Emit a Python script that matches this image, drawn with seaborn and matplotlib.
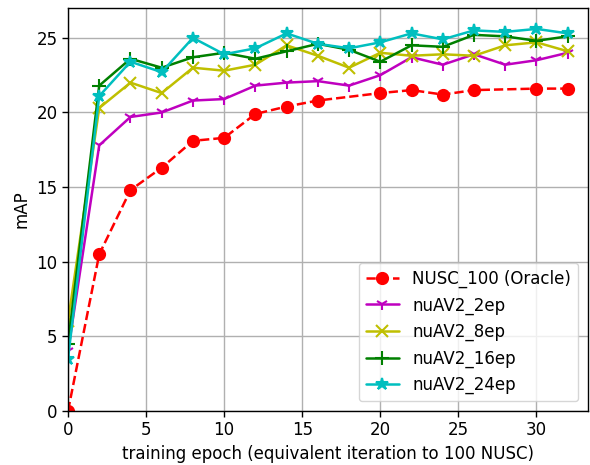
import pandas as pd
import matplotlib.pyplot as plt
import seaborn as sns

# epochs on the x axis
epochs = [0, 2, 4, 6, 8, 10, 12, 14, 16, 18, 20, 22, 24, 26, 28, 30, 32]
oracle_epochs = [0, 2, 4, 6, 8, 10, 12, 14, 16, 20, 22, 24, 26, 30, 32]

# mAP values
nusc_100 = [0.0, 10.5, 14.8, 16.3, 18.1, 18.3, 19.9, 20.4, 20.8, 21.3, 21.5, 21.2, 21.5, 21.6, 21.6]
nuav2_2ep = [4.0, 17.8, 19.7, 20.0, 20.8, 20.9, 21.8, 22.0, 22.1, 21.8, 22.5, 23.7, 23.2, 23.9, 23.2, 23.5, 24.0]
nuav2_8ep = [6.0, 20.3, 22.0, 21.3, 23.0, 22.8, 23.2, 24.5, 23.8, 23.0, 24.0, 23.8, 23.9, 23.8, 24.5, 24.7, 24.1]
nuav2_16ep = [4.5, 21.8, 23.6, 23.0, 23.7, 24.0, 23.6, 24.1, 24.6, 24.2, 23.4, 24.5, 24.4, 25.2, 25.1, 24.8, 25.1]
nuav2_24ep = [3.5, 21.1, 23.4, 22.7, 25.0, 23.9, 24.3, 25.3, 24.6, 24.3, 24.7, 25.3, 24.9, 25.5, 25.4, 25.6, 25.3]

series = [
    ("NUSC_100 (Oracle)", oracle_epochs, nusc_100, "r", "o", "--", 8),
    ("nuAV2_2ep", epochs, nuav2_2ep, "m", "1", "-", 9),
    ("nuAV2_8ep", epochs, nuav2_8ep, "y", "x", "-", 9),
    ("nuAV2_16ep", epochs, nuav2_16ep, "g", "+", "-", 10),
    ("nuAV2_24ep", epochs, nuav2_24ep, "c", "*", "-", 9),
]

sns.set_style("white")
plt.rcParams['font.family'] = ['DejaVu Sans']
plt.rcParams.update({"text.color": "black", "axes.labelcolor": "black",
                     "xtick.color": "black", "ytick.color": "black"})

fig = plt.figure(figsize=(5.9, 4.65), dpi=100)
ax = fig.add_axes([68 / 590, 54 / 465, 520 / 590, 403 / 465])

for name, xs, ys, color, marker, ls, ms in series:
    df = pd.DataFrame({"epoch": xs, "mAP": ys})
    sns.lineplot(data=df, x="epoch", y="mAP", ax=ax, color=color, marker=marker,
                 linestyle=ls, linewidth=1.8, markersize=ms, markeredgewidth=1.5,
                 markeredgecolor=color, label=name)

ax.set_xlim(0, 33.3)
ax.set_ylim(0, 27.0)
ax.set_xticks([0, 5, 10, 15, 20, 25, 30])
ax.set_yticks([0, 5, 10, 15, 20, 25])
ax.grid(True, color="#b0b0b0", linewidth=1)
ax.tick_params(labelsize=12, direction="out", length=4, width=1, color="black",
               bottom=True, left=True)
for s in ax.spines.values():
    s.set_color("black")
    s.set_linewidth(1)
ax.set_xlabel("training epoch (equivalent iteration to 100 NUSC)", fontsize=12)
ax.set_ylabel("mAP", fontsize=12)
ax.legend(loc="lower right", fontsize=12, framealpha=0.8, edgecolor="#cccccc",
          borderaxespad=0.6)

fig.savefig("out.png", dpi=100)
